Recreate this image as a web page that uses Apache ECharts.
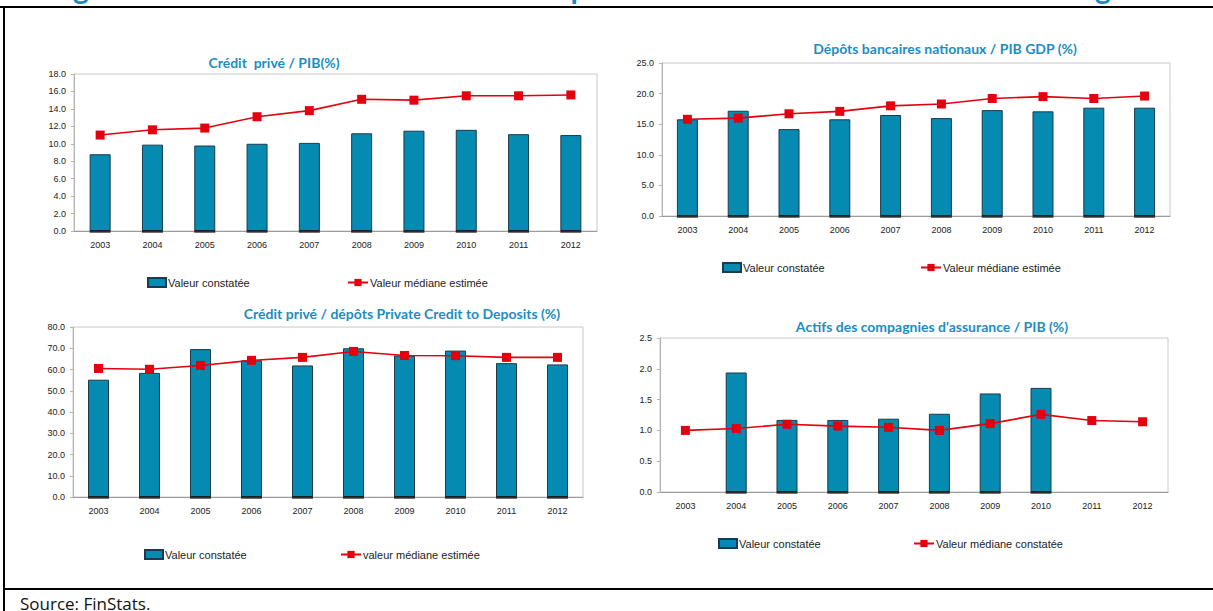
<!DOCTYPE html>
<html>
<head>
<meta charset="utf-8">
<script src="https://cdn.jsdelivr.net/npm/echarts@6/dist/echarts.min.js"></script>
<style>
  html, body { margin: 0; padding: 0; background: #fff; }
  #c { width: 1213px; height: 611px; }
</style>
</head>
<body>
<div id="c"></div>
<script>
// Years shown on every category axis
const years = ['2003', '2004', '2005', '2006', '2007', '2008', '2009', '2010', '2011', '2012'];

// Crédit privé / PIB (%)
const creditPibObs = [8.8, 9.9, 9.8, 10.0, 10.1, 11.2, 11.5, 11.6, 11.1, 11.0];
const creditPibMed = [11.0, 11.6, 11.8, 13.1, 13.8, 15.1, 15.0, 15.5, 15.5, 15.6];

// Dépôts bancaires nationaux / PIB (%)
const depotsPibObs = [15.8, 17.2, 14.2, 15.8, 16.5, 16.0, 17.3, 17.1, 17.7, 17.7];
const depotsPibMed = [15.8, 16.0, 16.7, 17.1, 18.0, 18.3, 19.2, 19.5, 19.2, 19.6];

// Crédit privé / dépôts (%)
const creditDepObs = [55.2, 58.4, 69.6, 64.3, 61.9, 70.0, 66.6, 68.9, 63.0, 62.4];
const creditDepMed = [60.5, 60.1, 61.9, 64.3, 65.7, 68.5, 66.6, 66.5, 65.7, 65.7];

// Actifs des compagnies d'assurance / PIB (%)
const assurObs = [null, 1.94, 1.17, 1.17, 1.19, 1.27, 1.60, 1.69, null, null];
const assurMed = [1.00, 1.03, 1.10, 1.07, 1.05, 1.00, 1.11, 1.26, 1.16, 1.14];

// Panel titles and legend labels
const titles = [
  'Crédit  privé / PIB(%)',
  'Dépôts bancaires nationaux / PIB GDP (%)',
  'Crédit privé / dépôts Private Credit to Deposits (%)',
  "Actifs des compagnies d'assurance / PIB (%)"
];
const obsNames = ['Valeur constatée', 'Valeur constatée', 'Valeur constatée', 'Valeur constatée'];
const medNames = ['Valeur médiane estimée', 'Valeur médiane estimée', 'valeur médiane estimée', 'Valeur médiane constatée'];
const axisMax = [18, 25, 80, 2.5];
const axisStep = [2, 5, 10, 0.5];

const obsData = [creditPibObs, depotsPibObs, creditDepObs, assurObs];
const medData = [creditPibMed, depotsPibMed, creditDepMed, assurMed];

// Panel layout (pixels)
const layout = [
  { grid: { left: 74, top: 74, width: 523, height: 157 }, tx: 274, ty: 62, ly: 283, l1: 147, l2: 347 },
  { grid: { left: 662, top: 63, width: 508, height: 153 }, tx: 945, ty: 48, ly: 268, l1: 722, l2: 920 },
  { grid: { left: 73, top: 327, width: 510, height: 170 }, tx: 402, ty: 313, ly: 555, l1: 144, l2: 340 },
  { grid: { left: 660, top: 338, width: 508, height: 154 }, tx: 932, ty: 326, ly: 544, l1: 718, l2: 913 }
];

const BAR = '#058ab2';
const BAR_EDGE = '#1c3b4a';
const RED = '#e3000f';
const TITLE = '#1d8dc1';
const FONT = 'Liberation Sans, Arial, sans-serif';
const TITLE_FONT = 'Lato, Open Sans, sans-serif';

const chart = echarts.init(document.getElementById('c'), null, { renderer: 'svg' });

const grids = [], xAxes = [], yAxes = [], series = [], legends = [], graphics = [];

layout.forEach((p, i) => {
  grids.push(Object.assign({ show: true, borderColor: '#c8c8c8', borderWidth: 1 }, p.grid));
  xAxes.push({
    type: 'category', gridIndex: i, data: years,
    axisLine: { lineStyle: { color: '#9c9c9c', width: 1 } },
    axisTick: { inside: true, length: 3, lineStyle: { color: '#9c9c9c' } },
    axisLabel: { fontSize: 9, color: '#222', margin: 9, fontFamily: FONT },
    splitLine: { show: false }
  });
  yAxes.push({
    type: 'value', gridIndex: i, min: 0, max: axisMax[i], interval: axisStep[i],
    axisLine: { show: true, lineStyle: { color: '#b4b4b4' } },
    axisTick: { show: true, length: 3, lineStyle: { color: '#b4b4b4' } },
    axisLabel: { fontSize: 9, color: '#222', margin: 8, fontFamily: FONT, formatter: v => v.toFixed(1) },
    splitLine: { show: false }
  });
  series.push({
    type: 'bar', name: obsNames[i], xAxisIndex: i, yAxisIndex: i,
    data: obsData[i], barWidth: 21,
    itemStyle: { color: BAR, borderColor: BAR_EDGE, borderWidth: 1 },
    z: 2
  });
  // dark foot under each observed bar
  series.push({
    type: 'scatter', name: 'base' + i, xAxisIndex: i, yAxisIndex: i,
    data: obsData[i].map(v => (v == null ? '-' : 0)),
    symbol: 'rect', symbolSize: [21, 2.5], symbolOffset: [0, 0.5],
    itemStyle: { color: '#111' }, silent: true, z: 3
  });
  series.push({
    type: 'line', name: medNames[i], xAxisIndex: i, yAxisIndex: i,
    data: medData[i], symbol: 'rect', symbolSize: 9,
    lineStyle: { color: RED, width: 1.6 },
    itemStyle: { color: RED },
    z: 4
  });
  legends.push({
    left: p.l1, top: p.ly - 6, padding: 0, selectedMode: false,
    itemWidth: 18, itemHeight: 9,
    data: [{ name: obsNames[i], icon: 'rect' }],
    textStyle: { fontSize: 11, color: '#222', fontFamily: FONT, padding: [0, 0, 0, -3] }
  });
  legends.push({
    left: p.l2, top: p.ly - 6, padding: 0, selectedMode: false,
    itemWidth: 20, itemHeight: 9,
    data: [{ name: medNames[i] }],
    textStyle: { fontSize: 11, color: '#222', fontFamily: FONT, padding: [0, 0, 0, -3] }
  });
  graphics.push({
    type: 'text', x: p.tx, y: p.ty,
    style: {
      text: titles[i], fill: TITLE, fontSize: 14, fontWeight: 'bold',
      fontFamily: TITLE_FONT, align: 'center', verticalAlign: 'middle'
    }
  });
});

// outer frame of the figure
graphics.push(
  { type: 'line', shape: { x1: 0, y1: 7, x2: 1213, y2: 7 }, style: { stroke: '#000', lineWidth: 2 } },
  { type: 'line', shape: { x1: 4, y1: 7, x2: 4, y2: 611 }, style: { stroke: '#000', lineWidth: 2 } },
  { type: 'line', shape: { x1: 4, y1: 589, x2: 1213, y2: 589 }, style: { stroke: '#000', lineWidth: 2 } }
);

// heading running above the frame (only its descenders remain in view)
[['g', 81], ['p', 579], ['g', 1103]].forEach(([ch, x]) => {
  graphics.push({
    type: 'text', x: x, y: 2,
    style: { text: ch, fill: '#1a8ac2', fontSize: 30, fontWeight: 'bold', fontFamily: TITLE_FONT, align: 'center', verticalAlign: 'bottom' }
  });
});

graphics.push({
  type: 'text', x: 20, y: 603,
  style: { text: 'Source: FinStats.', fill: '#111', fontSize: 17, fontFamily: 'Open Sans, sans-serif', align: 'left', verticalAlign: 'middle' }
});

chart.setOption({
  animation: false,
  backgroundColor: '#fff',
  grid: grids,
  xAxis: xAxes,
  yAxis: yAxes,
  legend: legends,
  series: series,
  graphic: graphics
});
</script>
</body>
</html>
